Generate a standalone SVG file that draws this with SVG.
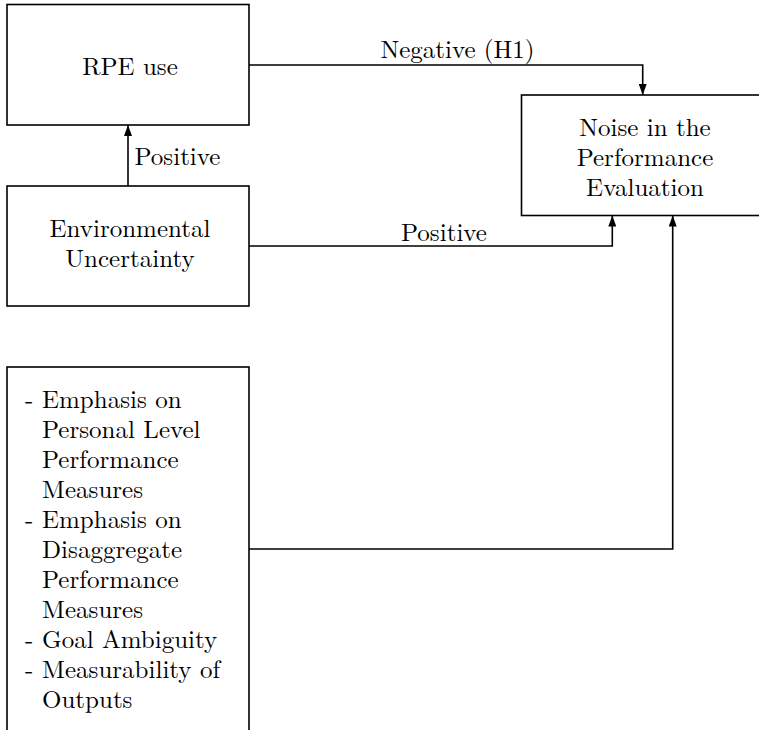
<svg xmlns="http://www.w3.org/2000/svg" width="759" height="730" viewBox="0 0 759 730">
  <style>
    .box { fill: #ffffff; stroke: #000000; stroke-width: 1.6; }
    .edge { fill: none; stroke: #000000; stroke-width: 1.6; }
    .c { text-anchor: middle; }
  </style>
  <defs>
    <marker id="arrow" viewBox="0 0 11 8" refX="11" refY="4" markerWidth="11" markerHeight="8" markerUnits="userSpaceOnUse" orient="auto">
      <path d="M0,0 L11,4 L0,8 Z" fill="#000000"/>
    </marker>
  </defs>

  <g font-family="Latin Modern Roman, Liberation Serif, serif" font-size="25" fill="#000000">
    <g id="rpe-use">
      <rect class="box" x="7" y="4.5" width="242" height="120.5"/>
      <text class="c" x="130" y="74.5">RPE use</text>
    </g>

    <g id="environmental-uncertainty">
      <rect class="box" x="7" y="186" width="242" height="120"/>
      <text class="c" x="130" y="236.5">Environmental</text>
      <text class="c" x="130" y="266.5">Uncertainty</text>
    </g>

    <g id="noise">
      <rect class="box" x="521.5" y="95" width="260" height="120.5"/>
      <text class="c" x="645" y="136">Noise in the</text>
      <text class="c" x="645" y="166">Performance</text>
      <text class="c" x="645" y="196">Evaluation</text>
    </g>

    <g id="measures">
      <rect class="box" x="7" y="367" width="242" height="380"/>
      <text x="25" y="407.5">- <tspan x="42">Emphasis on</tspan></text>
      <text x="42" y="437.5">Personal Level</text>
      <text x="42" y="467.5">Performance</text>
      <text x="42" y="497.5">Measures</text>
      <text x="25" y="527.5">- <tspan x="42">Emphasis on</tspan></text>
      <text x="42" y="557.5">Disaggregate</text>
      <text x="42" y="587.5">Performance</text>
      <text x="42" y="617.5">Measures</text>
      <text x="25" y="647.5">- <tspan x="42">Goal Ambiguity</tspan></text>
      <text x="25" y="677.5">- <tspan x="42">Measurability of</tspan></text>
      <text x="42" y="707.5">Outputs</text>
    </g>

    <g id="connectors">
      <path class="edge" d="M128,186 L128,125" marker-end="url(#arrow)"/>
      <text x="134.5" y="165">Positive</text>

      <path class="edge" d="M249,65 L642.7,65 L642.7,95" marker-end="url(#arrow)"/>
      <text class="c" x="457.5" y="58">Negative (H1)</text>

      <path class="edge" d="M249,246 L612.3,246 L612.3,215.5" marker-end="url(#arrow)"/>
      <text class="c" x="444" y="240.5">Positive</text>

      <path class="edge" d="M249,549 L672.7,549 L672.7,215.5" marker-end="url(#arrow)"/>
    </g>
  </g>
</svg>
